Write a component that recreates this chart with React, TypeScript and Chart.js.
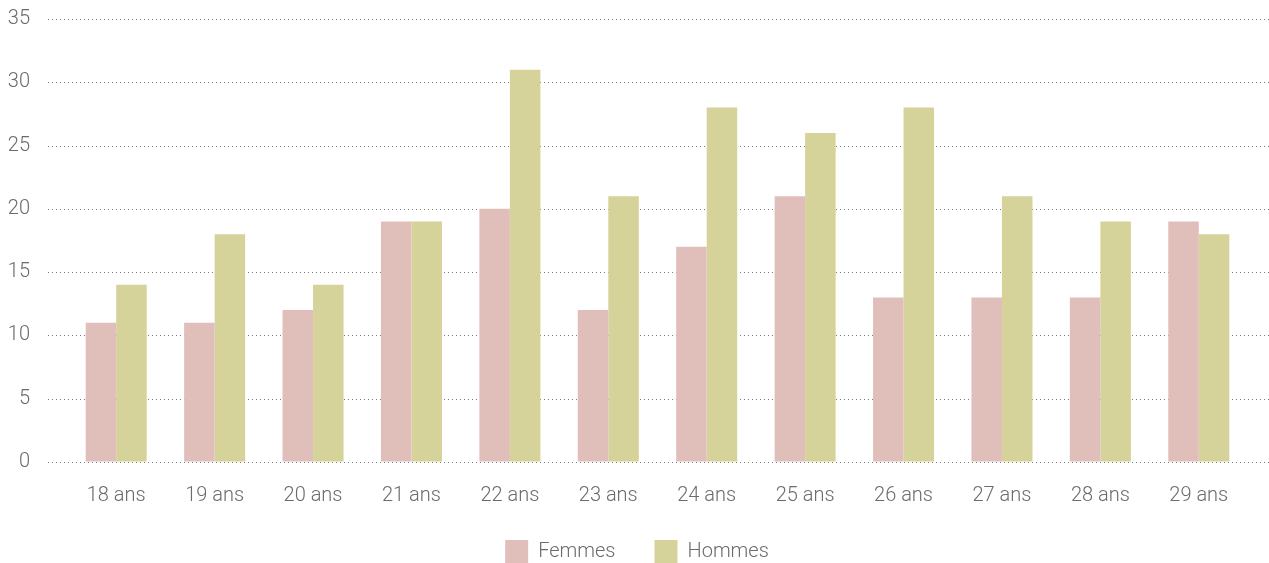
import React, { useEffect, useRef } from "react";
import { Chart, registerables } from "chart.js";

Chart.register(...registerables);

const categories = ["18 ans", "19 ans", "20 ans", "21 ans", "22 ans", "23 ans", "24 ans", "25 ans", "26 ans", "27 ans", "28 ans", "29 ans"];
const femmes = [11, 11, 12, 19, 20, 12, 17, 21, 13, 13, 13, 19];
const hommes = [14, 18, 14, 19, 31, 21, 28, 26, 28, 21, 19, 18];
const yMax = 35;
const yStep = 5;

const dottedGrid = {
  id: "dottedGrid",
  beforeDatasetsDraw(chart: any) {
    const { ctx, scales } = chart;
    const y = scales.y;
    ctx.save();
    ctx.strokeStyle = "#7a7a7a";
    ctx.lineWidth = 1;
    ctx.setLineDash([1, 3]);
    y.ticks.forEach((t: any) => {
      const py = Math.round(y.getPixelForValue(t.value)) + 0.5;
      ctx.beginPath();
      ctx.moveTo(48, py);
      ctx.lineTo(chart.width, py);
      ctx.stroke();
    });
    ctx.restore();
  },
};

const legendShift = {
  id: "legendShift",
  afterLayout(chart: any) {
    if (chart.legend) {
      chart.legend.left += 9;
      chart.legend.right += 9;
    }
  },
};

export default function App() {
  const ref = useRef<HTMLCanvasElement>(null);
  useEffect(() => {
    document.body.style.margin = "0";
    const font = { family: "Roboto", size: 20, weight: 300 as any };
    const chart = new Chart(ref.current!, {
      type: "bar",
      data: {
        labels: categories,
        datasets: [
          { label: "Femmes", data: femmes, backgroundColor: "#e0bfbb" },
          { label: "Hommes", data: hommes, backgroundColor: "#d5d399" },
        ],
      },
      options: {
        animation: false,
        responsive: false,
        datasets: { bar: { categoryPercentage: 0.62, barPercentage: 1 } },
        layout: { padding: { left: 8, right: 21, top: 19, bottom: -10 } },
        scales: {
          x: {
            grid: { display: true, drawOnChartArea: false, drawTicks: true, tickLength: 22, tickColor: "rgba(0,0,0,0)" },
            border: { display: false },
            ticks: { color: "#6b6b6b", font, padding: 0 },
            afterFit: (s: any) => { s.height = 39; },
          },
          y: {
            min: 0,
            max: yMax,
            grid: { display: true, drawOnChartArea: false, drawTicks: true, tickLength: 37, tickColor: "rgba(0,0,0,0)" },
            border: { display: false },
            ticks: { color: "#6b6b6b", font, padding: 0, stepSize: yStep },
            afterFit: (s: any) => { s.width = 59; },
          },
        },
        plugins: {
          legend: {
            position: "bottom",
            labels: { color: "#6b6b6b", font, boxWidth: 23, boxHeight: 23, padding: 39 },
          },
          tooltip: { enabled: false },
        },
      },
      plugins: [dottedGrid, legendShift],
    });
    return () => chart.destroy();
  }, []);
  return <canvas ref={ref} width={1269} height={563} style={{ display: "block" }} />;
}
